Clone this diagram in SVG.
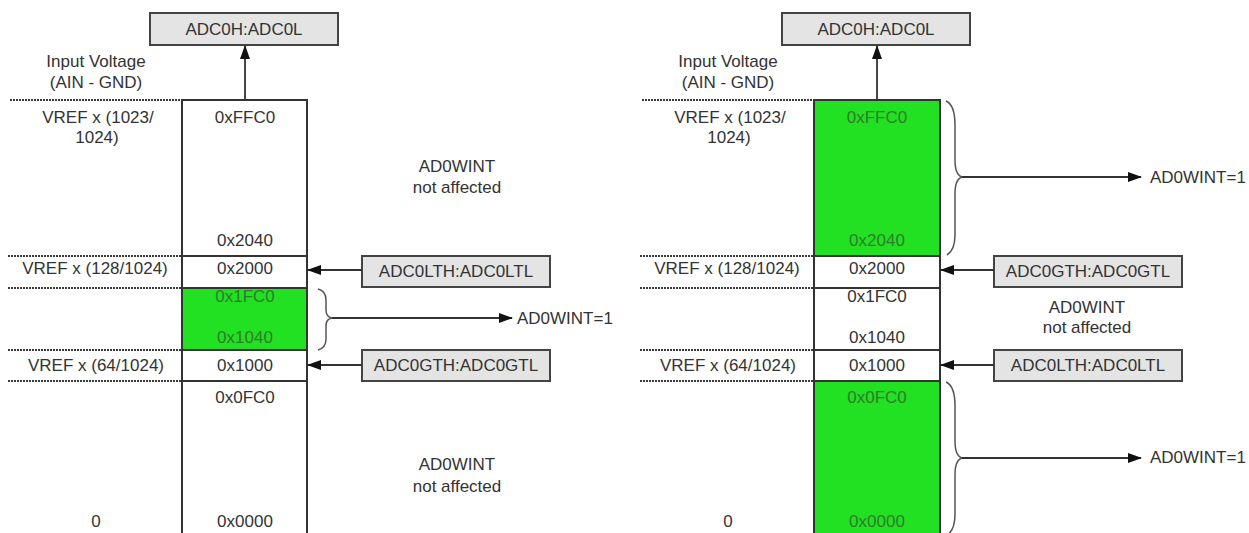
<svg xmlns="http://www.w3.org/2000/svg" width="1249" height="533" viewBox="0 0 1249 533">
<defs>
<style>
text{font-family:"Liberation Sans",Arial,sans-serif;font-size:17px;fill:#333;text-anchor:middle}
.g{fill:#2f7d2a}
.st{text-anchor:start}
.box{fill:#e4e4e4;stroke:#444;stroke-width:2}
.col{fill:none;stroke:#333;stroke-width:2}
.grn{fill:#22e022;stroke:none}
.dash{stroke:#3a3a3a;stroke-width:2;stroke-dasharray:2 1}
.sol{stroke:#333;stroke-width:1.8}
.con{stroke:#333;stroke-width:1.8;fill:none}
.brace{stroke:#555;stroke-width:1.5;fill:none}
</style>
<marker id="ah" markerUnits="userSpaceOnUse" markerWidth="14" markerHeight="10" refX="13" refY="5" orient="auto">
<path d="M0,0 L14,5 L0,10 Z" fill="#111"/>
</marker>
</defs>
<rect width="1249" height="533" fill="#fff"/>

<g id="left-scale">
<rect class="grn" x="182" y="288" width="125" height="62"/>
<line class="dash" x1="10" y1="100" x2="182" y2="100"/>
<line class="dash" x1="8" y1="256" x2="182" y2="256"/>
<line class="dash" x1="8" y1="288" x2="182" y2="288"/>
<line class="dash" x1="8" y1="350" x2="182" y2="350"/>
<line class="dash" x1="8" y1="381" x2="182" y2="381"/>
<line class="sol" x1="182" y1="256" x2="307" y2="256"/>
<line class="sol" x1="182" y1="288" x2="307" y2="288"/>
<line class="sol" x1="182" y1="350" x2="307" y2="350"/>
<line class="sol" x1="182" y1="381" x2="307" y2="381"/>
<path class="col" d="M182,540 V100 H307 V540"/>
<text x="96" y="67">Input Voltage</text>
<text x="96" y="88">(AIN - GND)</text>
<text x="98" y="123">VREF x (1023/</text>
<text x="97" y="143">1024)</text>
<text x="95" y="274">VREF x (128/1024)</text>
<text x="96" y="371">VREF x (64/1024)</text>
<text x="96" y="527">0</text>
<text x="245" y="123">0xFFC0</text>
<text x="245" y="246">0x2040</text>
<text x="245" y="274">0x2000</text>
<text class="g" x="245" y="302">0x1FC0</text>
<text class="g" x="245" y="343">0x1040</text>
<text x="245" y="371">0x1000</text>
<text x="245" y="403">0x0FC0</text>
<text x="245" y="527">0x0000</text>
<text x="457" y="172">AD0WINT</text>
<text x="457" y="193">not affected</text>
<text x="457" y="470">AD0WINT</text>
<text x="457" y="492">not affected</text>
<text class="st" x="517" y="324">AD0WINT=1</text>
</g>

<g id="left-adc0h">
<rect class="box" x="150" y="13" width="188" height="32"/>
<text x="244" y="35">ADC0H:ADC0L</text>
</g>
<g id="left-lth">
<rect class="box" x="362" y="256" width="188" height="31"/>
<text x="456" y="277">ADC0LTH:ADC0LTL</text>
</g>
<g id="left-gth">
<rect class="box" x="362" y="350" width="188" height="31"/>
<text x="456" y="371">ADC0GTH:ADC0GTL</text>
</g>

<g id="right-scale">
<rect class="grn" x="814" y="100" width="126" height="156"/>
<rect class="grn" x="814" y="381" width="126" height="160"/>
<line class="dash" x1="642" y1="100" x2="814" y2="100"/>
<line class="dash" x1="640" y1="256" x2="814" y2="256"/>
<line class="dash" x1="640" y1="288" x2="814" y2="288"/>
<line class="dash" x1="640" y1="350" x2="814" y2="350"/>
<line class="dash" x1="640" y1="381" x2="814" y2="381"/>
<line class="sol" x1="814" y1="256" x2="940" y2="256"/>
<line class="sol" x1="814" y1="288" x2="940" y2="288"/>
<line class="sol" x1="814" y1="350" x2="940" y2="350"/>
<line class="sol" x1="814" y1="381" x2="940" y2="381"/>
<path class="col" d="M814,540 V100 H940 V540"/>
<text x="728" y="67">Input Voltage</text>
<text x="728" y="88">(AIN - GND)</text>
<text x="730" y="123">VREF x (1023/</text>
<text x="729" y="143">1024)</text>
<text x="727" y="274">VREF x (128/1024)</text>
<text x="728" y="371">VREF x (64/1024)</text>
<text x="728" y="527">0</text>
<text class="g" x="877" y="123">0xFFC0</text>
<text class="g" x="877" y="246">0x2040</text>
<text x="877" y="274">0x2000</text>
<text x="877" y="302">0x1FC0</text>
<text x="877" y="343">0x1040</text>
<text x="877" y="371">0x1000</text>
<text class="g" x="877" y="403">0x0FC0</text>
<text class="g" x="877" y="527">0x0000</text>
<text x="1087" y="313">AD0WINT</text>
<text x="1087" y="333">not affected</text>
<text class="st" x="1150" y="183">AD0WINT=1</text>
<text class="st" x="1150" y="463">AD0WINT=1</text>
</g>

<g id="right-adc0h">
<rect class="box" x="782" y="13" width="188" height="32"/>
<text x="876" y="35">ADC0H:ADC0L</text>
</g>
<g id="right-gth">
<rect class="box" x="994" y="256" width="188" height="31"/>
<text x="1088" y="277">ADC0GTH:ADC0GTL</text>
</g>
<g id="right-lth">
<rect class="box" x="994" y="350" width="188" height="31"/>
<text x="1088" y="371">ADC0LTH:ADC0LTL</text>
</g>

<g id="connectors">
<line class="con" x1="245" y1="100" x2="245" y2="46" marker-end="url(#ah)"/>
<line class="con" x1="362" y1="270" x2="308" y2="270" marker-end="url(#ah)"/>
<line class="con" x1="362" y1="365" x2="308" y2="365" marker-end="url(#ah)"/>
<path class="brace" d="M318,289 Q326,291 326,300 V310 Q326,317 332,318 Q326,319 326,326 V339 Q326,348 318,350"/>
<line class="con" x1="332" y1="318" x2="512" y2="318" marker-end="url(#ah)"/>

<line class="con" x1="877" y1="100" x2="877" y2="46" marker-end="url(#ah)"/>
<line class="con" x1="994" y1="270" x2="941" y2="270" marker-end="url(#ah)"/>
<line class="con" x1="994" y1="365" x2="941" y2="365" marker-end="url(#ah)"/>
<path class="brace" d="M946,101 Q955,105 955,125 V160 Q955,175 962,177 Q955,179 955,194 V235 Q955,250 947,255"/>
<line class="con" x1="962" y1="177" x2="1141" y2="177" marker-end="url(#ah)"/>
<path class="brace" d="M946,382 Q955,386 955,406 V441 Q955,456 962,458 Q955,460 955,475 V514 Q955,530 947,535"/>
<line class="con" x1="962" y1="458" x2="1141" y2="458" marker-end="url(#ah)"/>
</g>
</svg>
